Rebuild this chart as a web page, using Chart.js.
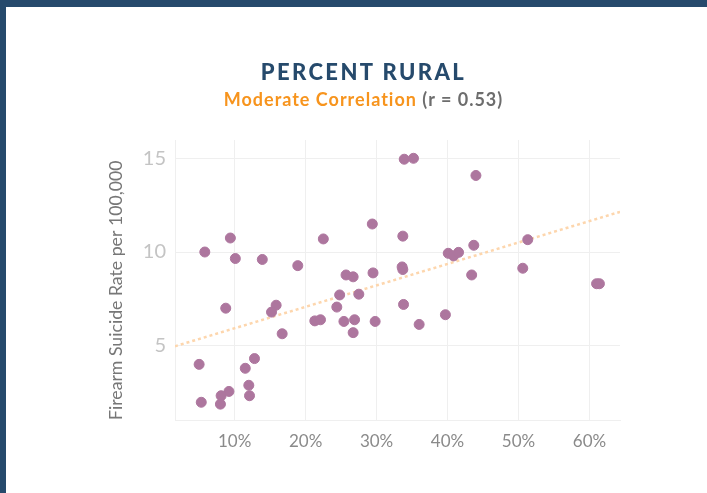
<!DOCTYPE html>
<html>
<head>
<meta charset="utf-8">
<script src="https://cdn.jsdelivr.net/npm/chart.js@4"></script>
<style>
    html, body { margin: 0; padding: 0; background: #fff; }
    body { width: 707px; height: 493px; position: relative; overflow: hidden; font-family: Lato, "Open Sans", sans-serif; }
    .frame-top { position: absolute; left: 0; top: 0; width: 707px; height: 7px; background: #264a6c; }
    .frame-left { position: absolute; left: 0; top: 0; width: 6px; height: 493px; background: #264a6c; }
    .heading { position: absolute; left: 0; width: 727px; text-align: center; }
    .title { top: 58px; font-size: 22px; font-weight: 900; color: #264a6c; letter-spacing: 2.4px; }
    .subtitle { top: 88px; font-size: 18px; font-weight: 700; color: #6d6d6d; letter-spacing: 1px; }
    .subtitle .accent { color: #f7941d; }
    #wrap { position: absolute; left: 0; top: 0; width: 707px; height: 493px; }
</style>
</head>
<body>
<div id="wrap"><canvas id="ruralChart"></canvas></div>
<div class="frame-top"></div>
<div class="frame-left"></div>
<div class="heading title">PERCENT RURAL</div>
<div class="heading subtitle"><span class="accent">Moderate Correlation</span> (r = 0.53)</div>
<script>
// percent rural (x) and firearm suicide rate per 100,000 (y), one entry per state
const rural = [5.8, 9.4, 10.1, 13.9, 18.9, 22.5, 33.9, 35.2, 29.4, 33.7,
    40.1, 40.85, 41.55, 43.7, 25.7, 26.7, 29.5, 33.6, 33.7, 43.4,
    44.0, 51.3, 50.6, 61.0, 61.4, 8.75, 15.85, 15.2, 16.7, 21.3,
    22.1, 5.0, 12.8, 11.5, 12.0, 12.1, 9.2, 8.1, 8.0, 5.3,
    24.8, 27.5, 24.4, 25.4, 26.9, 26.7, 29.8, 33.8, 36.0, 39.7];
const rate = [10.0, 10.75, 9.65, 9.6, 9.27, 10.7, 14.97, 15.02, 11.5, 10.85,
    9.93, 9.79, 9.98, 10.36, 8.77, 8.67, 8.88, 9.2, 9.06, 8.77,
    14.1, 10.66, 9.13, 8.3, 8.3, 6.99, 7.15, 6.78, 5.62, 6.31,
    6.37, 3.98, 4.29, 3.77, 2.86, 2.3, 2.53, 2.3, 1.85, 1.95,
    7.7, 7.74, 7.05, 6.28, 6.37, 5.68, 6.28, 7.19, 6.12, 6.64];

// trend line end points
const trendX = [1.6, 64.3];
const trendY = [4.95, 12.15];

const xTicks = [10, 20, 30, 40, 50, 60];
const yTicks = [5, 10, 15];

const points = rural.map((x, i) => ({ x: x, y: rate[i] }));
const trend = trendX.map((x, i) => ({ x: x, y: trendY[i] }));

const gridColor = '#efefef';

new Chart(document.getElementById('ruralChart'), {
    type: 'scatter',
    data: {
        datasets: [{
            label: 'States',
            data: points,
            backgroundColor: '#ad769e',
            borderColor: '#ad769e',
            pointRadius: 5,
            pointHoverRadius: 5,
            order: 1
        }, {
            type: 'line',
            label: 'Trend',
            data: trend,
            borderColor: '#fdd6ad',
            borderWidth: 2.5,
            borderDash: [3, 3],
            pointRadius: 0,
            fill: false,
            order: 2
        }]
    },
    options: {
        responsive: true,
        maintainAspectRatio: false,
        animation: false,
        layout: { padding: { left: 103, right: 87, top: 140, bottom: 32 } },
        plugins: {
            legend: { display: false },
            tooltip: { enabled: false }
        },
        scales: {
            x: {
                type: 'linear',
                min: 1.6,
                max: 64.3,
                afterBuildTicks: scale => { scale.ticks = xTicks.map(v => ({ value: v })); },
                afterFit: scale => { scale.height = 41; },
                grid: { color: gridColor, drawTicks: false },
                border: { color: gridColor },
                ticks: {
                    padding: 11,
                    color: '#8a8a8a',
                    font: { family: 'Lato', size: 17 },
                    callback: v => v + '%'
                }
            },
            y: {
                type: 'linear',
                min: 1,
                max: 16,
                afterBuildTicks: scale => { scale.ticks = yTicks.map(v => ({ value: v })); },
                afterFit: scale => { scale.width = 72; },
                grid: { color: gridColor, drawTicks: false },
                border: { color: gridColor },
                ticks: {
                    padding: 9,
                    color: '#c4c4c4',
                    font: { family: 'Lato', size: 20 }
                },
                title: {
                    display: true,
                    align: 'start',
                    text: 'Firearm Suicide Rate per 100,000',
                    color: '#777',
                    font: { family: 'Lato', size: 17.7 },
                    padding: { top: 3, bottom: 3 }
                }
            }
        }
    }
});
</script>
</body>
</html>
